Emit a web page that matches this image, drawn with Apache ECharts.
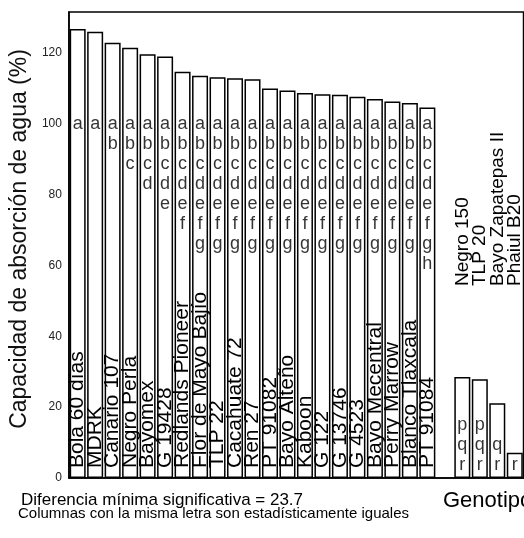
<!DOCTYPE html>
<html>
<head>
<meta charset="utf-8">
<script src="https://cdn.jsdelivr.net/npm/echarts@6/dist/echarts.min.js"></script>
<style>
  html, body { margin: 0; padding: 0; background: #fff; }
  #main { width: 524px; height: 538px; }
</style>
</head>
<body>
<div id="main"></div>
<script>
// genotipos, con un hueco entre los dos grupos
var genotipos = ['Bola 60 días', 'MDRK', 'Canario 107', 'Negro Perla', 'Bayomex', 'G 19428',
  'Redlands Pioneer', 'Flor de Mayo Bajío', 'TLP 22', 'Cacahuate 72', 'Ren 27', 'PT 91082',
  'Bayo Alteño', 'Kaboon', 'G 122', 'G 13746', 'G 4523', 'Bayo Mecentral', 'Perry Marrow',
  'Blanco Tlaxcala', 'PT 91084', '', 'Negro 150', 'TLP 20', 'Bayo Zapatepas II', 'Phaiul B20'];
var absorcion = [126.8, 126.0, 122.9, 121.5, 119.7, 119.0,
  114.7, 113.6, 113.2, 112.9, 112.6, 110.0,
  109.4, 108.7, 108.4, 108.2, 107.7, 107.0, 106.3,
  105.9, 104.6, null, 28.5, 27.9, 21.1, 7.1];
var letras = ['a', 'a', 'ab', 'abc', 'abcd', 'abcde',
  'abcdef', 'abcdefg', 'abcdefg', 'abcdefg', 'abcdefg', 'abcdefg',
  'abcdefg', 'abcdefg', 'abcdefg', 'abcdefg', 'abcdefg', 'abcdefg', 'abcdefg',
  'abcdefg', 'abcdefgh', '', 'pqr', 'pqr', 'qr', 'r'];
var yTicks = [0, 20, 40, 60, 80, 100, 120];

var corte = genotipos.indexOf('');
var fuente = '"Liberation Sans", Arial, sans-serif';

var myChart = echarts.init(document.getElementById('main'));

// los nombres del segundo grupo van arriba de las barras
var ejeX = genotipos.map(function (g, i) {
  if (i > corte) return { value: g, textStyle: { padding: [0, 0, 0, 182], fontSize: 19 } };
  return g;
});

// letras: cada una en su renglon fijo
var puntosLetras = letras.map(function (l, i) {
  if (!l) return null;
  return { value: [i, i < corte ? 103 : 18], letras: l };
});

option = {
  animation: false,
  backgroundColor: '#fff',
  title: [
    { text: 'Diferencia mínima significativa = 23.7', left: 21, top: 492, padding: 0,
      textStyle: { fontSize: 17, fontWeight: 'normal', color: '#000', fontFamily: fuente } },
    { text: 'Columnas con la misma letra son estadísticamente iguales', left: 18, top: 506, padding: 0,
      textStyle: { fontSize: 15, fontWeight: 'normal', color: '#000', fontFamily: fuente } },
    { text: 'Genotipo', left: 443, top: 490, padding: 0,
      textStyle: { fontSize: 22, fontWeight: 'normal', color: '#000', fontFamily: fuente } }
  ],
  grid: {
    left: 60, top: 12, width: 469, bottom: 60,
    show: true, borderColor: '#000', borderWidth: 1.5, backgroundColor: 'transparent'
  },
  xAxis: {
    type: 'category',
    data: ejeX,
    z: 10,
    axisLine: { lineStyle: { color: '#000', width: 1.5 } },
    axisTick: { show: false },
    axisLabel: {
      inside: true, rotate: 90, interval: 0, margin: 10,
      fontSize: 21, color: '#000', fontFamily: fuente
    }
  },
  yAxis: {
    type: 'value',
    min: 0, max: 131.6, interval: 20,
    name: 'Capacidad de absorción de agua (%)',
    nameLocation: 'middle',
    nameGap: 26,
    nameTextStyle: { fontSize: 23, color: '#111', fontFamily: fuente, padding: [0, 0, 0, 12] },
    axisLine: { show: true, lineStyle: { color: '#000', width: 1.5 } },
    axisTick: { show: false },
    splitLine: { show: false },
    axisLabel: {
      margin: 7, fontSize: 12, color: '#222', showMaxLabel: false,
      fontFamily: '"Liberation Sans Narrow", "Liberation Sans", sans-serif',
      formatter: function (v) { return yTicks.indexOf(v) >= 0 ? v : ''; }
    }
  },
  series: [
    {
      name: 'Absorción',
      type: 'bar',
      barWidth: 16,
      data: absorcion,
      itemStyle: { color: '#fff', borderColor: '#000', borderWidth: 1.5 }
    },
    {
      name: 'Letras',
      type: 'scatter',
      symbolSize: 1,
      itemStyle: { color: 'rgba(0,0,0,0)' },
      data: puntosLetras,
      label: {
        show: true,
        position: 'bottom',
        distance: 0,
        fontSize: 18,
        lineHeight: 20,
        color: '#000',
        fontFamily: fuente,
        formatter: function (p) {
          var l = p.data.letras;
          var base = p.dataIndex < corte ? 'a' : 'p';
          var fin = l.charCodeAt(l.length - 1);
          var filas = [];
          for (var c = base.charCodeAt(0); c <= fin; c++) {
            var ch = String.fromCharCode(c);
            filas.push(l.indexOf(ch) >= 0 ? ch : ' ');
          }
          return filas.join('\n');
        }
      }
    }
  ]
};

myChart.setOption(option);
</script>
</body>
</html>
